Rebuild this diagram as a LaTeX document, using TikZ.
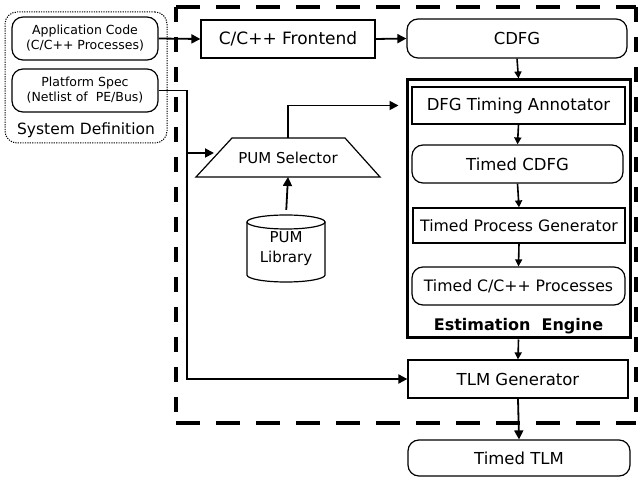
\documentclass[tikz,border=0pt]{standalone}
\usepackage{fontspec}
\setmainfont{DejaVu Sans}
\usetikzlibrary{arrows.meta,shapes.geometric}
\begin{document}
\begin{tikzpicture}[x=1pt,y=-1pt,
  box/.style={draw, line width=1.2pt, inner sep=0pt, align=center,
              font=\fontsize{16.5}{19}\selectfont},
  rbox/.style={box, rounded corners=11pt},
  smallbox/.style={rbox, font=\fontsize{12.5}{15}\selectfont},
  conn/.style={line width=1.8pt, -{Triangle[length=9pt,width=9pt]}},
  sconn/.style={line width=1.6pt, -{Triangle[length=7pt,width=7pt]}},
  wire/.style={line width=1.8pt},
  outline/.style={line width=1.2pt},
  bigdash/.style={line width=4.5pt},
]
\useasboundingbox (0,0) rectangle (638,478);

% system definition group
\node[draw, line width=1pt, dash pattern=on 1.2pt off 1.2pt, rounded corners=12pt,
      minimum width=162pt, minimum height=131pt] (sysdef) at (86,77.5) {};
\node[smallbox, minimum width=146pt, minimum height=43pt] (app) at (85,38.5)
  {Application Code\\(C/C++ Processes)};
\node[smallbox, minimum width=146pt, minimum height=43pt] (plat) at (85,90.5)
  {Platform Spec\\(Netlist of\ \ PE/Bus)};
\node[font=\fontsize{15.5}{18}\selectfont] (sdlabel) at (86,130) {System Definition};

% dashed boundary of the estimation flow
\draw[bigdash, dash pattern=on 24pt off 16pt] (176,7) -- (636,7);
\draw[bigdash, dash pattern=on 24pt off 16pt] (176,423) -- (636,423);
\draw[bigdash, dash pattern=on 15pt off 15pt] (176,7) -- (176,423);
\draw[bigdash, dash pattern=on 15pt off 15pt] (636,7) -- (636,423);

% front end
\node[box, minimum width=174pt, minimum height=38pt, font=\fontsize{17}{20}\selectfont]
  (fe) at (288,39) {C/C++ Frontend};
\node[rbox, minimum width=220pt, minimum height=39pt] (cdfg) at (517,38.5) {CDFG};

% estimation engine
\node[draw, line width=3pt, minimum width=223pt, minimum height=258pt] (eng) at (518.5,209) {};
\node[box, minimum width=213pt, minimum height=37pt] (dfg) at (518.5,105.5) {DFG Timing Annotator};
\node[rbox, minimum width=211pt, minimum height=38pt] (tcdfg) at (517.5,164) {Timed CDFG};
\node[box, minimum width=212pt, minimum height=35pt, font=\fontsize{15.7}{18}\selectfont]
  (tpg) at (519,225.5) {Timed Process Generator};
\node[rbox, minimum width=213pt, minimum height=38pt, font=\fontsize{15.7}{18}\selectfont]
  (tcpp) at (518.5,286) {Timed C/C++ Processes};
\node[font=\bfseries\fontsize{16}{19}\selectfont] (englabel) at (518.5,326) {Estimation\ \ Engine};

% back end
\node[box, minimum width=220pt, minimum height=38pt] (tlm) at (518,379) {TLM Generator};
\node[rbox, minimum width=222pt, minimum height=36pt] (ttlm) at (519,458) {Timed TLM};

% PUM selector (trapezoid outline around its label)
\node[font=\fontsize{15}{18}\selectfont, inner sep=0pt] (sel) at (288,158) {PUM Selector};
\draw[outline] (196,177) -- (232,138) -- (345,138) -- (380,177) -- cycle;
\coordinate (seltop) at (288,138);
\coordinate (selbot) at (288,177);
\coordinate (selin) at (214,153);

% PUM library cylinder
\node[align=center, font=\fontsize{15}{20}\selectfont, minimum width=78pt, minimum height=67pt,
      inner sep=0pt] (lib) at (286,248.5) {PUM\\Library};
\draw[outline] (286,222) ellipse [x radius=39, y radius=7];
\draw[outline] (247,222) -- (247,275)
  arc[start angle=180, end angle=0, x radius=39, y radius=7] -- (325,222);

% connectors
\draw[conn] (app.east) -- (fe.west);
\draw[conn] (fe.east) -- (cdfg.west);
\draw[sconn] (cdfg.south) -- (eng.north);
\draw[sconn] (dfg.south) -- (tcdfg.north);
\draw[sconn] (tcdfg.south) -- (tpg.north);
\draw[sconn] (tpg.south) -- (tcpp.north);
\draw[sconn] (eng.south) -- (tlm.north);
\draw[conn] (tlm.south) -- (ttlm.north);

\coordinate (bus) at (187,90.5);
\draw[wire] (plat.east) -- (bus);
\draw[conn] (bus) -- (bus |- tlm.west) -- (tlm.west);
\draw[conn] (bus |- selin) -- (selin);
\draw[conn, shorten <=5pt] (lib.north) -- (selbot);
\draw[conn, shorten >=7pt] (seltop) |- (eng.west |- dfg.west);
\end{tikzpicture}
\end{document}
